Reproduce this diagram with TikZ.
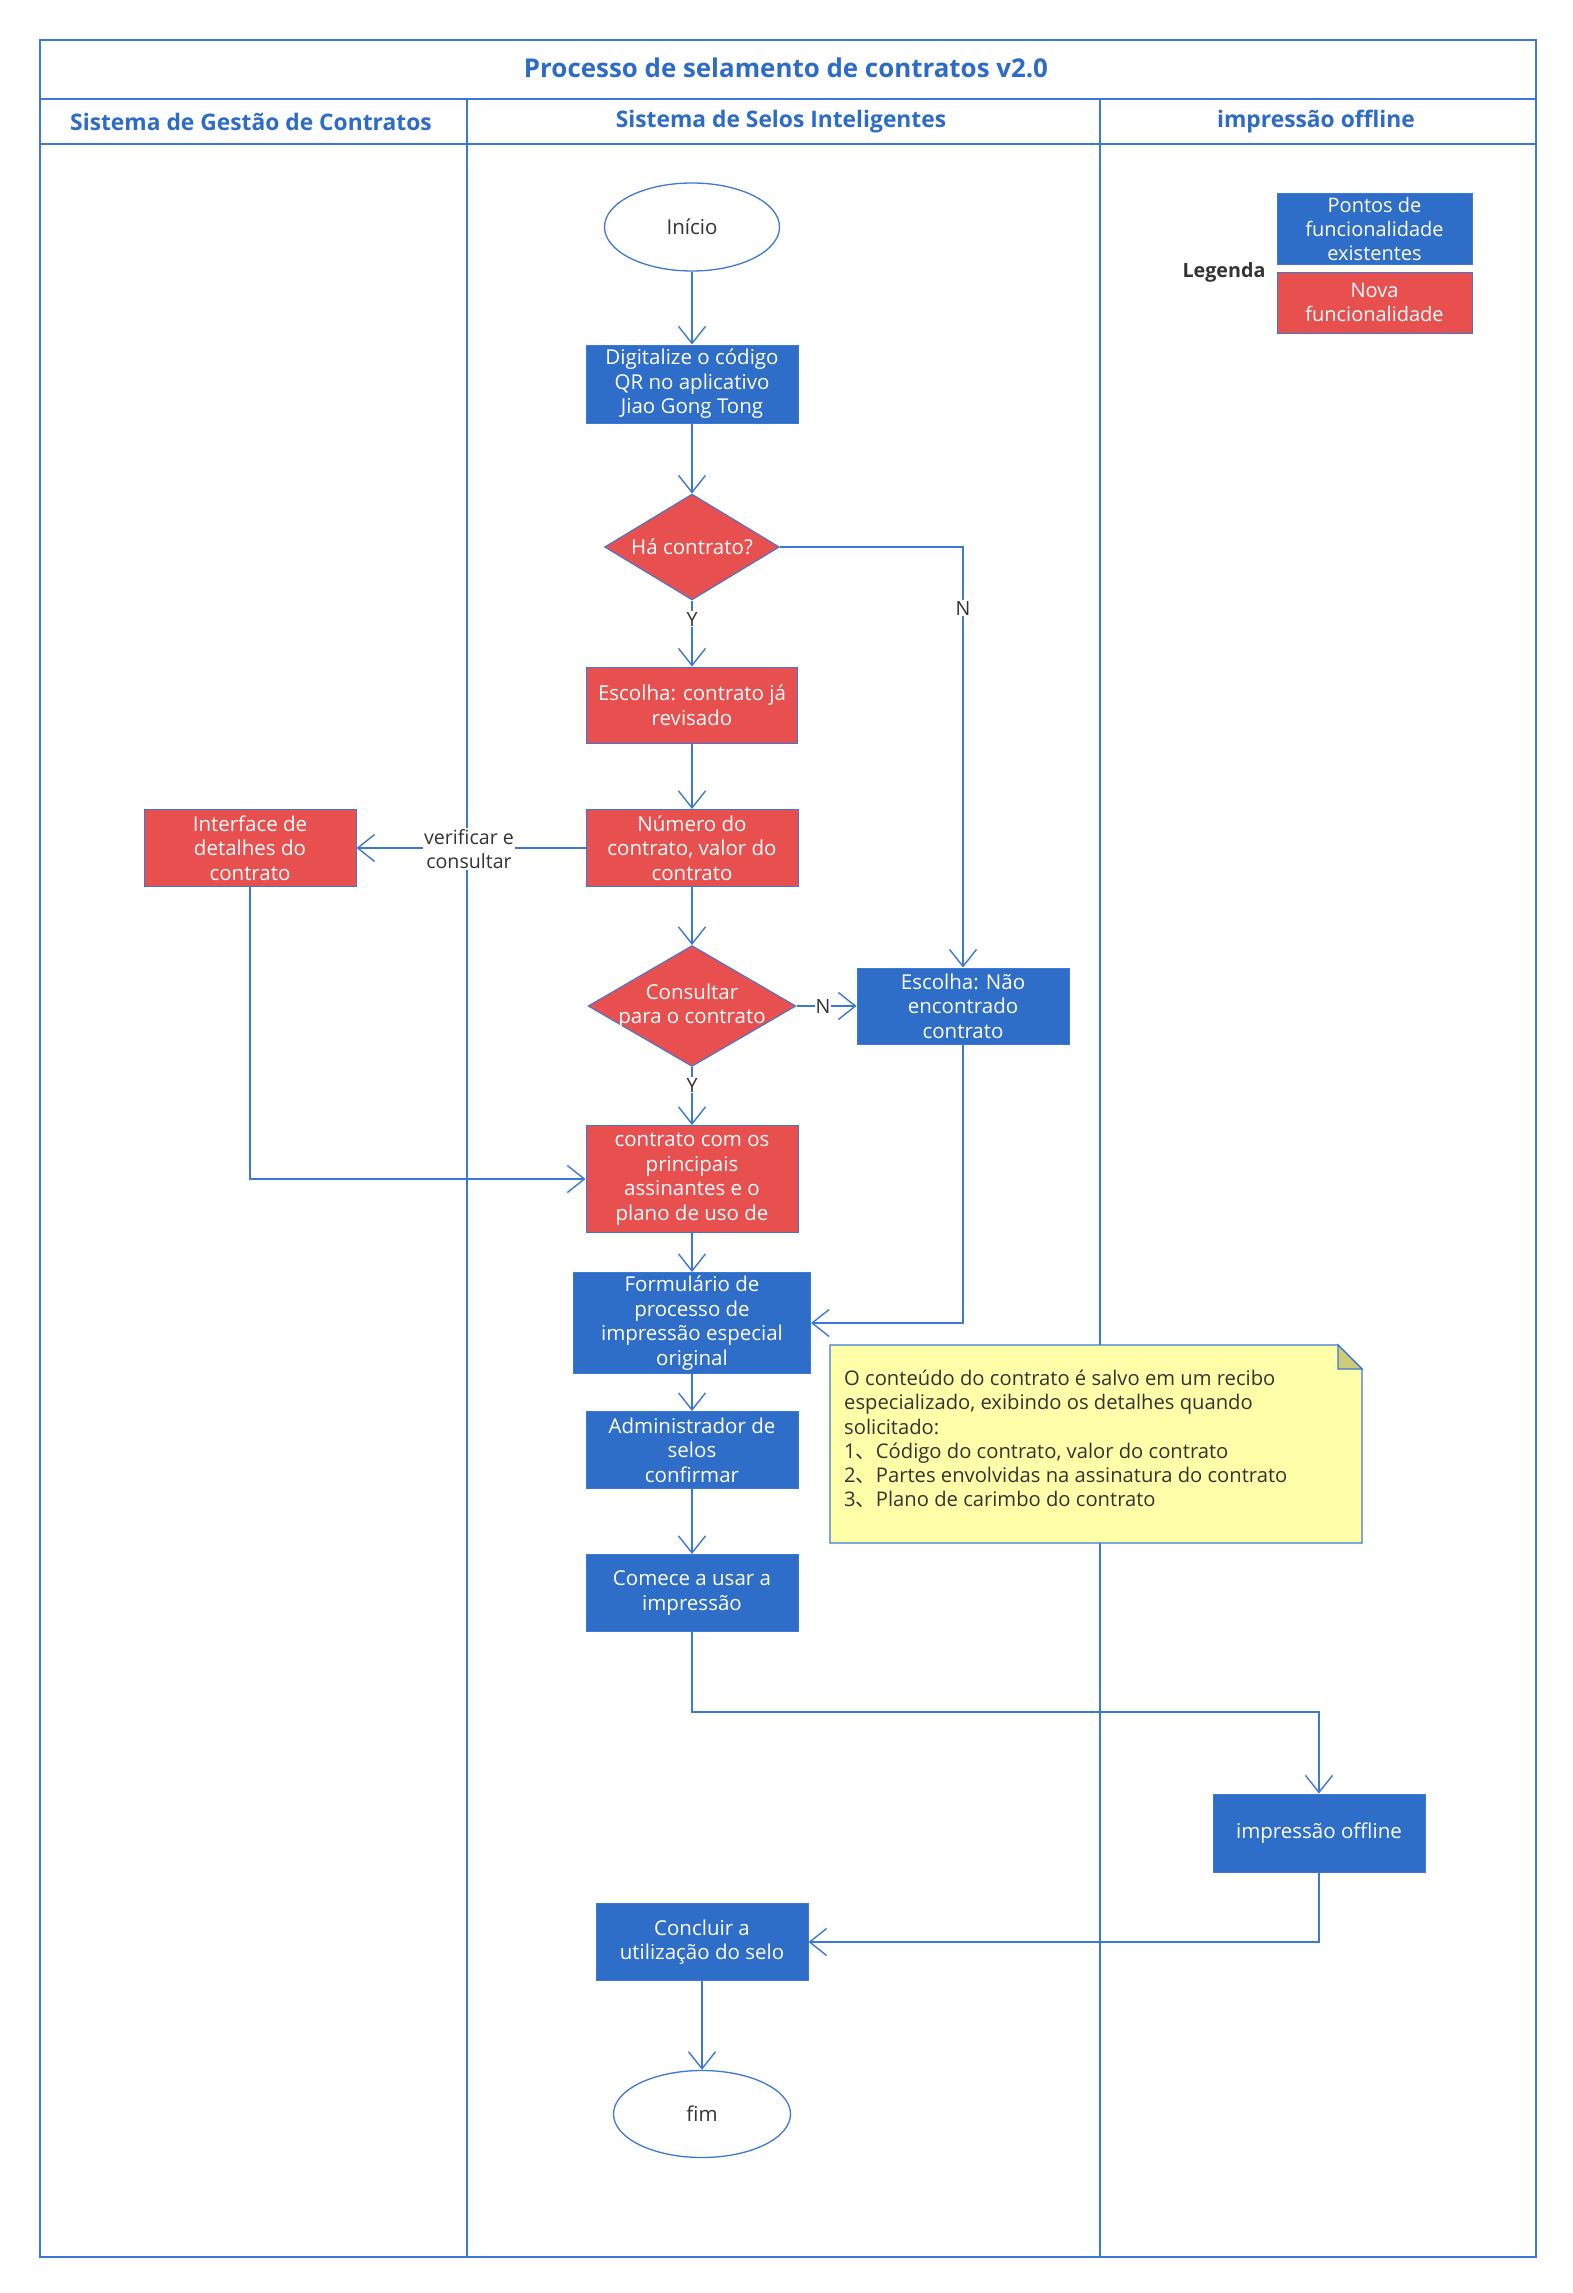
\documentclass[tikz,border=0pt]{standalone}
\usepackage{fontspec}
\setmainfont{Open Sans}
\newfontfamily\cjk{Noto Sans CJK SC}
\usetikzlibrary{shapes.geometric,arrows.meta}
\definecolor{blueF}{HTML}{2E6EC8}
\definecolor{redF}{HTML}{E84F4F}
\definecolor{lineC}{HTML}{3C78D8}
\definecolor{titleC}{HTML}{2D6BC8}
\definecolor{noteF}{HTML}{FFFFAA}
\definecolor{foldF}{HTML}{CFCB76}
\definecolor{textC}{HTML}{333333}
\newcommand{\dun}{{\cjk 、}}
\tikzset{
  boxfont/.style={font=\fontsize{20.5}{24.5}\selectfont},
  bluebox/.style={rectangle, fill=blueF, draw=lineC, line width=1pt, text=white, align=center, inner sep=0pt, boxfont},
  redbox/.style={rectangle, fill=redF, draw=lineC, line width=1pt, text=white, align=center, inner sep=0pt, boxfont},
  decision/.style={diamond, fill=redF, draw=lineC, line width=1pt, inner sep=0pt},
  dectext/.style={text=white, align=center, inner sep=0pt, boxfont},
  terminal/.style={ellipse, fill=white, draw=lineC, line width=1.3pt, text=textC, inner sep=0pt, boxfont},
  conn/.style={draw=lineC, line width=1.4pt, -{Straight Barb[length=17pt,width=27pt]}},
  lbl/.style={fill=white, text=textC, align=center, inner sep=1pt, font=\fontsize{19.6}{24}\selectfont},
  lane/.style={draw=lineC, line width=1.5pt},
  headtext/.style={text=titleC, font=\fontsize{22.8}{27}\selectfont\bfseries},
}
\begin{document}
\begin{tikzpicture}[x=1pt,y=-1pt]
\useasboundingbox (0,0) rectangle (1572,2293);
% lanes
\draw[lane] (40,40) rectangle (1536,2257);
\draw[lane] (40,99) -- (1536,99);
\draw[lane] (40,144) -- (1536,144);
\draw[lane] (467,99) -- (467,2257);
\draw[lane] (1100,99) -- (1100,2257);
\node[text=titleC, font=\fontsize{25.9}{30}\selectfont\bfseries] (title) at (786,68) {Processo de selamento de contratos v2.0};
\node[headtext] (h1) at (251,122) {Sistema de Gestão de Contratos};
\node[headtext] (h2) at (781,122) {Sistema de Selos Inteligentes};
\node[headtext] (h3) at (1316,122) {impressão offline};
% legend
\node[text=textC, font=\fontsize{19.7}{22}\selectfont\bfseries] (leg) at (1224,272) {Legenda};
\node[bluebox, minimum width=195pt, minimum height=70pt, font=\fontsize{20}{24}\selectfont] (legb) at (1374.5,229) {Pontos de\\funcionalidade\\existentes};
\node[redbox, minimum width=195pt, minimum height=61pt, font=\fontsize{20}{24}\selectfont] (legr) at (1374.5,302.5) {Nova\\funcionalidade};
% nodes
\node[terminal, minimum width=175pt, minimum height=88pt] (ini) at (692,227) {Início};
\node[bluebox, minimum width=212pt, minimum height=78pt] (dig) at (692,384) {Digitalize o código\\QR no aplicativo\\Jiao Gong Tong};
\node[decision, minimum width=175pt, minimum height=106pt] (ha) at (692,547) {};
\node[dectext] at (ha.center) {Há contrato?};
\node[redbox, minimum width=211pt, minimum height=76pt] (esc) at (692,705) {Escolha: contrato já\\revisado};
\node[redbox, minimum width=212pt, minimum height=77pt] (num) at (692,848) {Número do\\contrato, valor do\\contrato};
\node[redbox, minimum width=212pt, minimum height=77pt] (ifc) at (250,848) {Interface de\\detalhes do\\contrato};
\node[decision, minimum width=208pt, minimum height=121pt] (cons) at (692,1006) {};
\node[dectext] at (cons.center) {Consultar\\para o contrato};
\node[bluebox, minimum width=212pt, minimum height=76pt] (nao) at (963,1006) {Escolha: Não\\encontrado\\contrato};
\node[redbox, minimum width=212pt, minimum height=107pt] (cont) at (692,1179) {contrato com os\\principais\\assinantes e o\\plano de uso de};
\node[bluebox, minimum width=237pt, minimum height=101pt] (form) at (692,1323) {Formulário de\\processo de\\impressão especial\\original};
\node[bluebox, minimum width=212pt, minimum height=77pt] (adm) at (692,1450) {Administrador de\\selos\\confirmar};
\node[bluebox, minimum width=212pt, minimum height=77pt] (com) at (692,1593) {Comece a usar a\\impressão};
\node[bluebox, minimum width=212pt, minimum height=78pt] (off) at (1319,1833) {impressão offline};
\node[bluebox, minimum width=212pt, minimum height=77pt] (con) at (702,1942) {Concluir a\\utilização do selo};
\node[terminal, minimum width=177pt, minimum height=87pt] (fim) at (702,2114) {fim};
% note
\draw[draw=lineC, line width=1.3pt, fill=noteF] (830,1345) -- (1338,1345) -- (1362,1369) -- (1362,1543) -- (830,1543) -- cycle;
\draw[draw=lineC, line width=1.3pt, fill=foldF] (1338,1345) -- (1362,1369) -- (1338,1369) -- cycle;
\node[anchor=north west, inner sep=0pt, align=left, text=textC, font=\fontsize{20.2}{24.2}\selectfont] (note) at (844,1370) {O conteúdo do contrato é salvo em um recibo\\especializado, exibindo os detalhes quando\\solicitado:\\1\dun Código do contrato, valor do contrato\\2\dun Partes envolvidas na assinatura do contrato\\3\dun Plano de carimbo do contrato};
% connectors
\draw[conn] (ini.south) -- (dig.north);
\draw[conn] (dig.south) -- (ha.north);
\draw[conn] (ha.south) -- (esc.north);
\node[lbl] (y1) at (692,619) {Y};
\draw[conn] (ha.east) -| (nao.north);
\node[lbl] (n1) at (963,608) {N};
\draw[conn] (esc.south) -- (num.north);
\draw[conn] (num.west) -- (ifc.east);
\node[lbl] (vc) at (469,849) {verificar e\\consultar};
\draw[conn] (num.south) -- (cons.north);
\draw[conn] (cons.east) -- (nao.west);
\node[lbl] (n2) at (823,1006) {N};
\draw[conn] (cons.south) -- (cont.north);
\node[lbl] (y2) at (692,1085) {Y};
\draw[conn] (ifc.south) |- (cont.west);
\draw[conn] (cont.south) -- (form.north);
\draw[conn] (nao.south) |- (form.east);
\draw[conn] (form.south) -- (adm.north);
\draw[conn] (adm.south) -- (com.north);
\coordinate (c4) at (692,1712);
\draw[conn] (com.south) -- (c4) -| (off.north);
\draw[conn] (off.south) |- (con.east);
\draw[conn] (con.south) -- (fim.north);
\end{tikzpicture}
\end{document}
